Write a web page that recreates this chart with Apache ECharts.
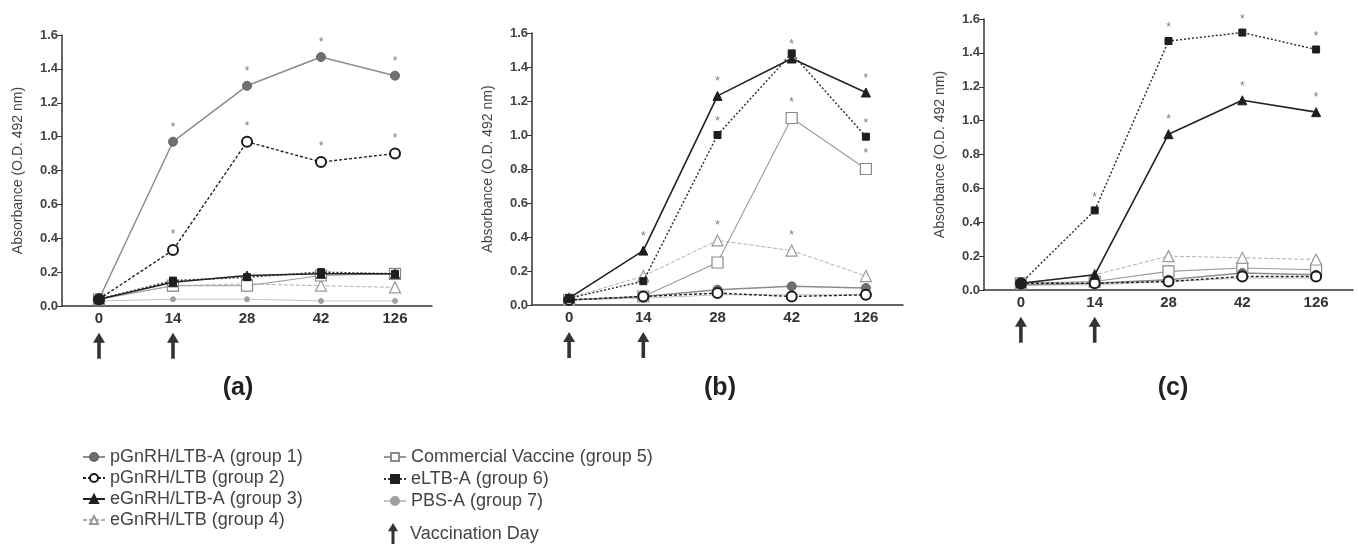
<!DOCTYPE html>
<html><head><meta charset="utf-8">
<script src="https://cdn.jsdelivr.net/npm/echarts@6/dist/echarts.min.js"></script>
<style>html,body{margin:0;padding:0;background:#fff}#c{width:1359px;height:544px}</style>
</head><body><div id="c"></div>
<script>
// ---- data ----
const days = ['0', '14', '28', '42', '126'];
const groupNames = [
  'pGnRH/LTB-A (group 1)', 'pGnRH/LTB (group 2)', 'eGnRH/LTB-A (group 3)', 'eGnRH/LTB (group 4)',
  'Commercial Vaccine (group 5)', 'eLTB-A (group 6)', 'PBS-A (group 7)'
];
const vaccinationDays = ['0', '14'];
const vaccinationLabel = 'Vaccination Day';
const panelLabels = ['(a)', '(b)', '(c)'];
const yAxisTitle = 'Absorbance (O.D. 492 nm)';

// panel (a)
const a1 = [0.04, 0.97, 1.30, 1.47, 1.36];
const a2 = [0.04, 0.33, 0.97, 0.85, 0.90];
const a3 = [0.04, 0.14, 0.18, 0.19, 0.19];
const a4 = [0.04, 0.12, 0.13, 0.12, 0.11];
const a5 = [0.04, 0.12, 0.12, 0.18, 0.19];
const a6 = [0.04, 0.15, 0.17, 0.20, 0.19];
const a7 = [0.03, 0.04, 0.04, 0.03, 0.03];
// panel (b)
const b1 = [0.03, 0.05, 0.09, 0.11, 0.10];
const b2 = [0.03, 0.05, 0.07, 0.05, 0.06];
const b3 = [0.04, 0.32, 1.23, 1.45, 1.25];
const b4 = [0.04, 0.17, 0.38, 0.32, 0.17];
const b5 = [0.03, 0.05, 0.25, 1.10, 0.80];
const b6 = [0.04, 0.14, 1.00, 1.48, 0.99];
const b7 = [0.03, 0.04, 0.06, 0.06, 0.06];
// panel (c)
const c1 = [0.03, 0.04, 0.06, 0.10, 0.09];
const c2 = [0.04, 0.04, 0.05, 0.08, 0.08];
const c3 = [0.04, 0.09, 0.92, 1.12, 1.05];
const c4 = [0.04, 0.09, 0.20, 0.19, 0.18];
const c5 = [0.04, 0.05, 0.11, 0.13, 0.12];
const c6 = [0.04, 0.47, 1.47, 1.52, 1.42];
const c7 = [0.03, 0.03, 0.05, 0.07, 0.07];

// significance asterisks (1 = marked)
const aStar1 = [0, 1, 1, 1, 1];
const aStar2 = [0, 1, 1, 1, 1];
const bStar3 = [0, 1, 1, 1, 1];
const bStar4 = [0, 0, 1, 1, 0];
const bStar5 = [0, 0, 0, 1, 1];
const bStar6 = [0, 0, 1, 0, 1];
const cStar3 = [0, 0, 1, 1, 1];
const cStar6 = [0, 1, 1, 1, 1];

// ---- styles ----
const FONT = 'Liberation Sans, Arial, sans-serif';
const styles = [
  {symbol: 'circle', size: 9, color: '#707070', border: '#666', bw: 1, line: '#8c8c8c', lw: 1.5, type: 'solid', z: 3},
  {symbol: 'circle', size: 10, color: '#fff', border: '#1a1a1a', bw: 2, line: '#222', lw: 1.4, type: [3, 2], z: 4},
  {symbol: 'triangle', size: 9, color: '#1e1e1e', border: '#1e1e1e', bw: 1, line: '#222', lw: 1.6, type: 'solid', z: 6},
  {symbol: 'triangle', size: 11, color: '#fff', border: '#9a9a9a', bw: 1.2, line: '#b0b0b0', lw: 1, type: [4, 2], z: 2},
  {symbol: 'rect', size: 11, color: '#fff', border: '#8a8a8a', bw: 1.2, line: '#9a9a9a', lw: 1.1, type: 'solid', z: 2},
  {symbol: 'rect', size: 7, color: '#1e1e1e', border: '#1e1e1e', bw: 1, line: '#333', lw: 1.5, type: [2, 2], z: 5},
  {symbol: 'circle', size: 5, color: '#a0a0a0', border: '#a0a0a0', bw: 1, line: '#c4c4c4', lw: 1, type: 'solid', z: 1}
];
const arrowPath = 'path://M6,0 L12,10 L7.8,10 L7.8,26 L4.2,26 L4.2,10 L0,10 Z';

function lineSeries(p, g, values, stars) {
  const s = styles[g];
  return {
    name: groupNames[g], type: 'line', xAxisIndex: p, yAxisIndex: p,
    symbol: s.symbol, symbolSize: s.size, z: s.z,
    itemStyle: {color: s.color, borderColor: s.border, borderWidth: s.bw},
    lineStyle: {color: s.line, width: s.lw, type: s.type},
    label: {show: false, formatter: '*', position: 'top', distance: 3, color: '#7a7a7a', fontSize: 12, fontFamily: FONT},
    data: values.map((v, i) => ({value: v, label: {show: !!(stars && stars[i])}}))
  };
}

const grids = [
  {left: 62, top: 35, width: 370, height: 271},
  {left: 532, top: 33, width: 371, height: 272},
  {left: 984, top: 19, width: 369, height: 271}
];

const xAxes = grids.map((g, i) => ({
  type: 'category', gridIndex: i, data: days, boundaryGap: true,
  axisLine: {lineStyle: {color: '#333', width: 1.5}},
  axisTick: {alignWithLabel: true, length: 4, lineStyle: {color: '#333'}},
  axisLabel: {color: '#333', fontSize: 15, fontWeight: 'bold', fontFamily: FONT, margin: 5}
}));
const yAxes = grids.map((g, i) => ({
  type: 'value', gridIndex: i, min: 0, max: 1.6, interval: 0.2,
  name: yAxisTitle, nameLocation: 'middle', nameGap: 37, nameRotate: 90,
  nameTextStyle: {color: '#444', fontSize: 14, fontFamily: FONT},
  axisLine: {show: true, lineStyle: {color: '#333', width: 1.5}},
  axisTick: {show: true, length: 5, lineStyle: {color: '#333'}},
  splitLine: {show: false},
  axisLabel: {color: '#444', fontSize: 13, fontWeight: 'bold', fontFamily: FONT, margin: 4,
    formatter: v => v.toFixed(1)}
}));

const series = [
  // panel a
  lineSeries(0, 6, a7), lineSeries(0, 3, a4), lineSeries(0, 4, a5), lineSeries(0, 5, a6),
  lineSeries(0, 2, a3), lineSeries(0, 1, a2, aStar2), lineSeries(0, 0, a1, aStar1),
  // panel b
  lineSeries(1, 6, b7), lineSeries(1, 1, b2), lineSeries(1, 0, b1), lineSeries(1, 3, b4, bStar4),
  lineSeries(1, 4, b5, bStar5), lineSeries(1, 5, b6, bStar6), lineSeries(1, 2, b3, bStar3),
  // panel c
  lineSeries(2, 6, c7), lineSeries(2, 1, c2), lineSeries(2, 0, c1), lineSeries(2, 4, c5),
  lineSeries(2, 3, c4), lineSeries(2, 2, c3, cStar3), lineSeries(2, 5, c6, cStar6)
];
[0, 1, 2].forEach(p => series.push({
  name: vaccinationLabel, type: 'scatter', xAxisIndex: p, yAxisIndex: p, clip: false, silent: true,
  symbol: arrowPath, symbolSize: [12, 26], itemStyle: {color: '#000'},
  data: vaccinationDays.map(d => [d, -0.235])
}));

const legendText = {color: '#444', fontSize: 18, fontFamily: FONT};
const option = {
  animation: false,
  backgroundColor: '#fff',
  title: panelLabels.map((t, i) => ({
    text: t, left: [233, 715, 1168][i], top: 371, textAlign: 'center',
    textStyle: {fontSize: 25, fontWeight: 'bold', color: '#222', fontFamily: FONT}
  })),
  grid: grids,
  xAxis: xAxes,
  yAxis: yAxes,
  legend: [
    {orient: 'vertical', left: 77, top: 443, itemWidth: 22, itemHeight: 10, itemGap: 3,
     data: groupNames.slice(0, 4), textStyle: legendText, selectedMode: false},
    {orient: 'vertical', left: 378, top: 443, itemWidth: 22, itemHeight: 10, itemGap: 4,
     data: groupNames.slice(4, 7), textStyle: legendText, selectedMode: false},
    {orient: 'vertical', left: 383, top: 518, itemWidth: 10, itemHeight: 26,
     data: [vaccinationLabel], textStyle: Object.assign({}, legendText, {padding: [0, 0, 0, 7]}), selectedMode: false}
  ],
  series: series
};
const chart = echarts.init(document.getElementById('c'), null, {renderer: 'canvas'});
chart.setOption(option);
</script>
</body></html>
